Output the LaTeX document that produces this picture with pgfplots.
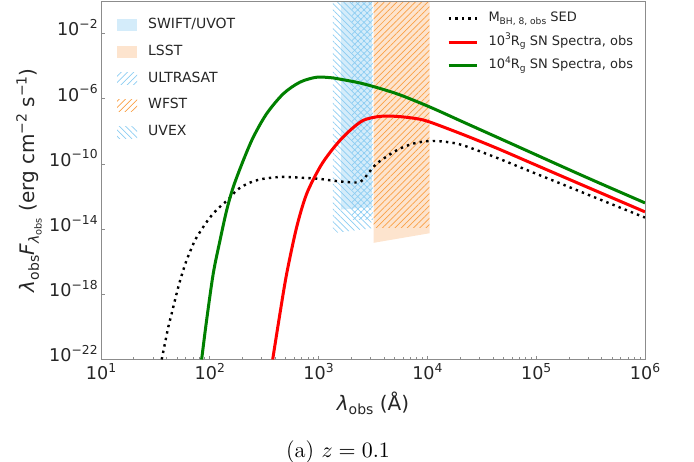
\documentclass[border=0pt]{standalone}
\usepackage{fontspec}
\usepackage{graphicx}
\usepackage{pgfplots}
\pgfplotsset{compat=1.18}
\usetikzlibrary{patterns.meta}
\newfontfamily\dejavu{DejaVu Sans}
\newcommand{\sps}[1]{\raisebox{0.42em}{\scalebox{0.7}{#1}}}
\newcommand{\sbs}[1]{\raisebox{-0.2em}{\scalebox{0.7}{#1}}}
\definecolor{swiftfill}{RGB}{212,236,250}
\definecolor{lsstfill}{RGB}{253,228,206}
\definecolor{bluehatch}{RGB}{140,205,242}
\definecolor{orangehatch}{RGB}{250,160,70}
\definecolor{mplgreen}{RGB}{0,128,0}
\begin{document}
\begin{tikzpicture}
\begin{axis}[at={(0,0)}, anchor=south west,
  scale only axis, width=272pt, height=179.25pt,
  xmode=log, ymode=log, xmin=10, xmax=1e6, ymin=1e-22, ymax=1,
  axis on top,
  axis line style={black!45},
  tick align=inside,
  xtick pos=left, ytick pos=left,
  xtick={10,100,1000,10000,100000,1000000},
  xticklabels={10\sps{1},10\sps{2},10\sps{3},10\sps{4},10\sps{5},10\sps{6}},
  minor xtick={20,30,40,50,60,70,80,90,200,300,400,500,600,700,800,900,2000,3000,4000,5000,6000,7000,8000,9000,20000,30000,40000,50000,60000,70000,80000,90000,200000,300000,400000,500000,600000,700000,800000,900000},
  ytick={1e-22,1e-18,1e-14,1e-10,1e-6,1e-2},
  yticklabels={10\sps{−22},10\sps{−18},10\sps{−14},10\sps{−10},10\sps{−6},10\sps{−2}},
  yminorticks=false,
  major tick length=2pt, minor tick length=1.2pt,
  every tick/.style={black!45},
  tick label style={font=\dejavu\fontsize{8.8}{10}\selectfont, text=black!85},
  xticklabel style={inner sep=0pt, anchor=north, yshift=-1.7pt},
  yticklabel style={inner sep=0pt, anchor=base east, xshift=-1.5pt, yshift=-1.2pt},
  xlabel={\textit{λ}\sbs{obs} (Å)},
  ylabel={\textit{λ}\sbs{obs}\textit{F}\sbs{\textit{λ}\sbs{obs}} (erg cm\sps{−2} s\sps{−1})},
  label style={font=\dejavu\fontsize{10}{12}\selectfont, text=black!85},
  xlabel style={at={(axis description cs:0.5,-0.1213)}, anchor=center},
  ylabel style={at={(axis description cs:-0.1324,0.5)}, anchor=center},
  legend style={at={(axis description cs:0.029,0.9498)}, anchor=north west, draw=none, fill=none, inner sep=0pt, row sep=7.33pt, font=\dejavu\fontsize{7}{8}\selectfont, nodes={inner sep=0pt, text height=4.6pt, text depth=1.2pt}, cells={anchor=west}, text=black!85},
  legend image code/.code={\path[#1,draw=none] (0pt,-3pt) rectangle (10pt,3pt); \path (15.5pt,0pt);}
]
\addplot[fill=swiftfill, draw=none] coordinates {(1600,2) (1600,1.585e-13) (3100,2.29e-13) (3100,2)} -- cycle;
\addlegendentry{SWIFT/UVOT}
\addplot[fill=lsstfill, draw=none] coordinates {(3200,2) (3200,1.445e-15) (10500,5.62e-15) (10500,2)} -- cycle;
\addlegendentry{LSST}
\addplot[draw=none, pattern={Lines[angle=45,distance=2.2pt,line width=0.35pt]}, pattern color=bluehatch] coordinates {(2030,2) (2030,4e-14) (3150,4e-14) (3150,2)} -- cycle;
\addlegendentry{ULTRASAT}
\addplot[draw=none, pattern={Lines[angle=45,distance=2.2pt,line width=0.35pt]}, pattern color=orangehatch] coordinates {(3200,2) (3200,1.2e-14) (10400,1.2e-14) (10400,2)} -- cycle;
\addlegendentry{WFST}
\addplot[draw=none, pattern={Lines[angle=-45,distance=2.2pt,line width=0.35pt]}, pattern color=bluehatch] coordinates {(1355,2) (1355,5.62e-15) (3050,1.12e-14) (3050,2)} -- cycle;
\addlegendentry{UVEX}
\end{axis}
\begin{axis}[at={(0,0)}, anchor=south west,
  scale only axis, width=272pt, height=179.25pt,
  xmode=log, ymode=log, xmin=10, xmax=1e6, ymin=1e-22, ymax=1,
  hide axis,
  legend style={at={(axis description cs:0.6355,0.9685)}, anchor=north west, draw=none, fill=none, inner sep=0pt, row sep=5.7pt, font=\dejavu\fontsize{6.5}{7.5}\selectfont, nodes={inner sep=0pt, text height=4.6pt, text depth=1.4pt}, cells={anchor=west}, text=black!85},
  legend image code/.code={\draw[#1] (0pt,0pt) -- (14.2pt,0pt); \path (19.2pt,0pt);}
]
\addplot[black, line width=1.2pt, dash pattern=on 1.2pt off 2.1pt, smooth] coordinates {
(36.14,1e-22) (38.73,1e-21) (41.59,1.023e-20) (44.67,6.76e-20) (47.86,4.467e-19) (51.4,2.884e-18) (55.21,1.514e-17) (60.39,9.77e-17) (65.77,4.074e-16) (73.11,2.089e-15) (81.28,6.761e-15) (93.54,2.754e-14) (107.6,9.12e-14) (128.5,2.951e-13) (147.9,6.607e-13) (177.8,2.512e-12) (223.9,6.31e-12) (289.1,1.122e-11) (398.1,1.514e-11) (509.3,1.585e-11) (961.6,1.259e-11) (1271,1e-11) (1811,7.762e-12) (2404,7.762e-12) (2767,1.995e-11) (3420,1.047e-10) (5224,6.918e-10) (7413,1.778e-9) (10568,2.57e-9) (15030,2.239e-9) (21380,1.38e-9) (43350,2.4e-10) (87700,3.55e-11) (177400,5.37e-12) (359700,7.94e-13) (1e6,5.129e-14)};
\addlegendentry{M\sbs{BH, 8, obs} SED}
\addplot[red, line width=1.5pt, smooth] coordinates {
(378.4,1e-22) (441.6,6.76e-20) (509.3,1.905e-17) (629.5,1.38e-14) (778,1.514e-12) (1030,6.457e-11) (1271,5.01e-10) (1574,2.818e-9) (1945,1.148e-8) (2576,4.786e-8) (3664,8.318e-8) (5224,8.318e-8) (7980,6.026e-8) (10568,3.715e-8) (21380,6.3e-9) (43350,9.33e-10) (87700,1.23e-10) (177400,1.62e-11) (359700,2.14e-12) (1e6,1.148e-13)};
\addlegendentry{10\sps{3}R\sbs{g} SN Spectra, obs}
\addplot[mplgreen, line width=1.5pt, smooth] coordinates {
(84.1,1e-22) (93.5,2.63e-20) (107.6,1.905e-17) (124.2,2.089e-15) (142.9,1.445e-13) (164.4,3.89e-12) (203.2,1.66e-10) (251.2,4.467e-9) (333.4,1.23e-7) (474.2,2.042e-6) (674.5,1.047e-5) (961.6,2.1e-5) (1365,1.9e-5) (1574,1.6e-5) (2576,8.32e-6) (5224,2.042e-6) (10568,3.09e-7) (21380,3.715e-8) (43350,4.467e-9) (87700,5.37e-10) (177400,6.457e-11) (359700,7.943e-12) (1e6,4.074e-13)};
\addlegendentry{10\sps{4}R\sbs{g} SN Spectra, obs}
\end{axis}
\node[font=\fontsize{11.2}{13}\selectfont, anchor=center] at (118.5pt,-46.25pt) {(a) $z = 0.1$};
\pgfresetboundingbox
\path[use as bounding box] (-50.5pt,-50.75pt) rectangle (296.5pt,179.75pt);
\end{tikzpicture}
\end{document}
